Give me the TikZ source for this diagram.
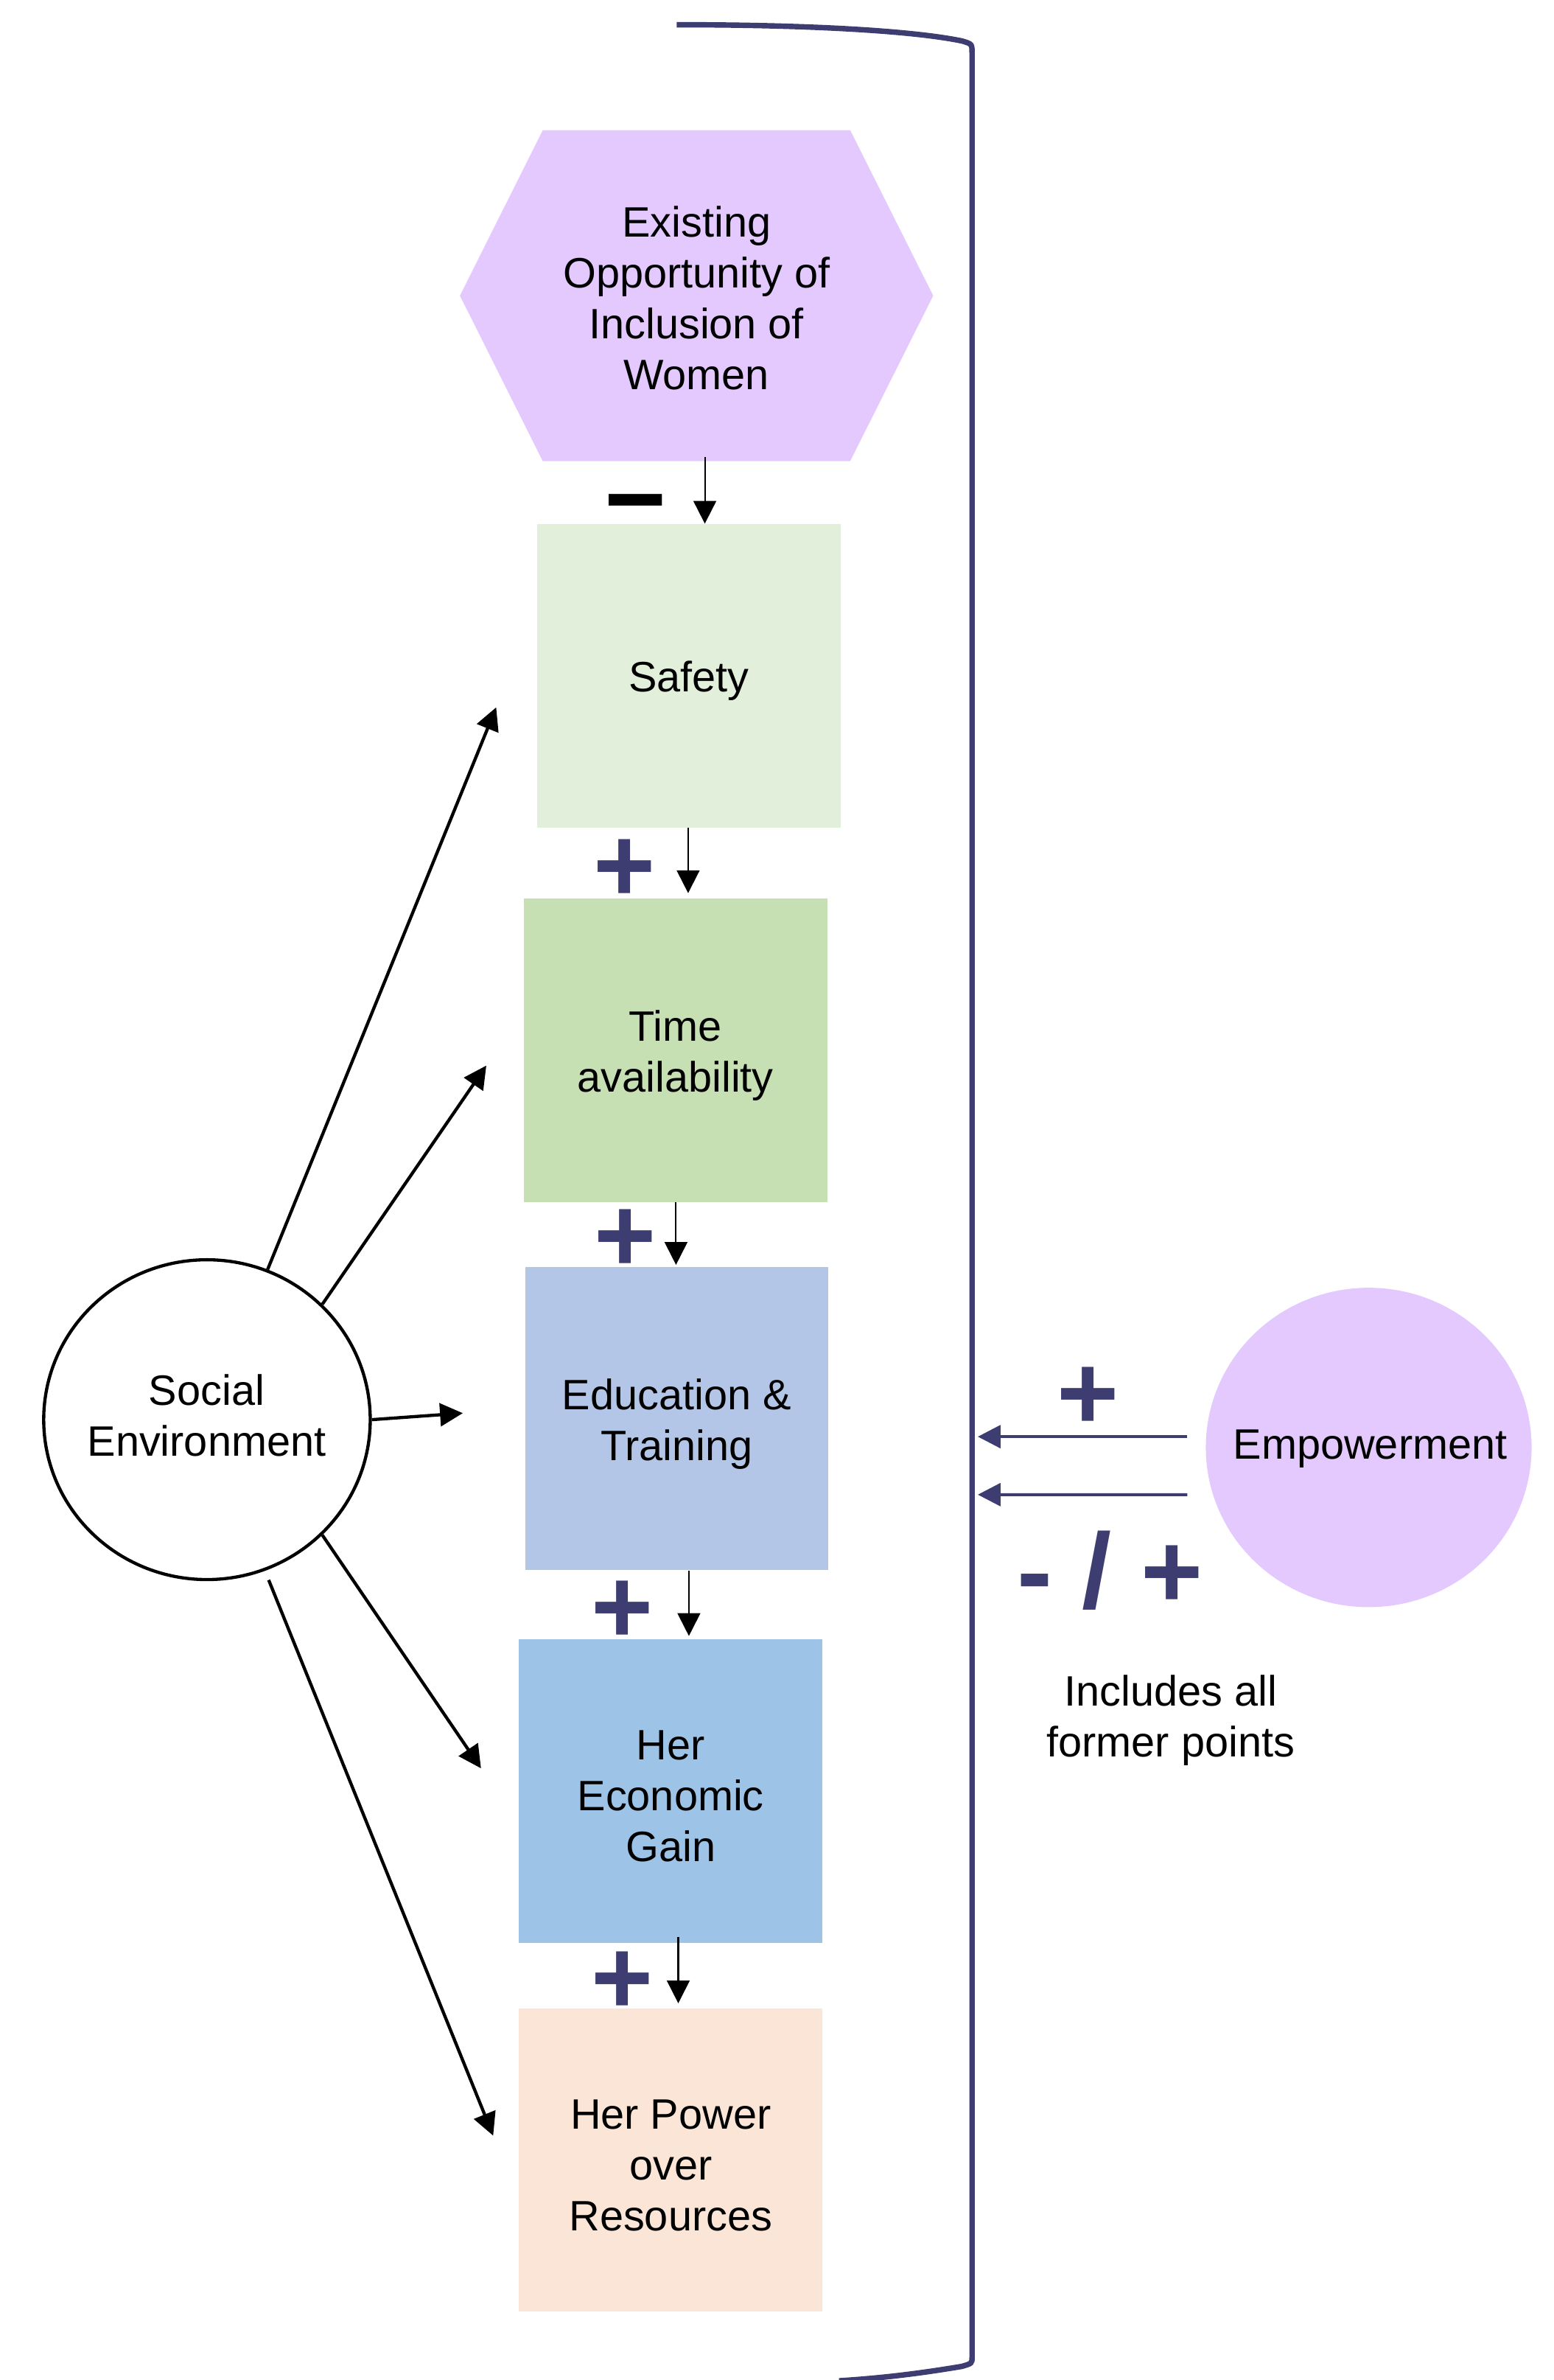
\documentclass[tikz,border=0pt]{standalone}
\usepackage{fontspec}
\setmainfont{Liberation Sans}
\usetikzlibrary{arrows.meta,shapes.geometric}
\definecolor{navy}{RGB}{62,61,114}
\definecolor{lav}{RGB}{227,201,253}
\definecolor{safetyc}{HTML}{E2EFDA}
\definecolor{timec}{HTML}{C6E0B4}
\definecolor{educ}{HTML}{B4C6E7}
\definecolor{econc}{HTML}{9DC3E6}
\definecolor{powerc}{HTML}{FBE5D6}
\begin{document}
\begin{tikzpicture}[x=1pt,y=-1pt,
  txt/.style={font=\fontsize{28}{33.5}\selectfont, align=center, text=black, inner sep=0pt},
  box/.style={rectangle, minimum width=200pt, minimum height=200pt, inner sep=0pt},
  boxtext/.style={txt, yshift=-3.5pt},
  sign/.style={font=\fontsize{70}{84}\selectfont\bfseries, text=navy, inner sep=0pt},
  thinarr/.style={draw=black, line width=1pt, -{Triangle[length=15pt,width=15pt]}},
  socarr/.style={draw=black, line width=2.1pt, -{Triangle[length=15pt,width=15pt]}},
  navyarr/.style={draw=navy, line width=2pt, -{Triangle[length=15pt,width=15pt]}}]

\useasboundingbox (0,0) rectangle (1024,1568);

% bracket
\draw[navy, line width=3.6pt] (446,16.3) .. controls (530,16.3) and (600,20) .. (634,27)
  .. controls (640.6,29) .. (640.6,35) -- (640.6,1553)
  .. controls (640.6,1557) .. (634,1559)
  .. controls (610,1563) and (585,1566.5) .. (553,1568.5);

% hexagon
\fill[lav] (303.1,194.8) -- (357.7,85.8) -- (560.3,85.8) -- (615,194.8) -- (560.3,303.8) -- (357.7,303.8) -- cycle;
\node[minimum width=312pt, minimum height=218pt, inner sep=0pt] (hex) at (459,194.8) {};
\node[txt] (hexT) at (459,196.3) {Existing\\Opportunity of\\Inclusion of\\Women};

% boxes
\node[box, fill=safetyc] (safety) at (454,445.2) {};
\node[box, fill=timec] (time) at (445.2,692) {};
\node[box, fill=educ] (edu) at (446,934.5) {};
\node[box, fill=econc] (econ) at (442,1180) {};
\node[box, fill=powerc] (power) at (442,1423) {};
\node[boxtext] (safetyT) at (safety) {Safety};
\node[boxtext] (timeT) at (time) {Time\\availability};
\node[boxtext] (eduT) at (edu) {Education \&\\Training};
\node[boxtext] (econT) at (econ) {Her\\Economic\\Gain};
\node[boxtext] (powerT) at (power) {Her Power\\over\\Resources};

% vertical arrows
\draw[thinarr, shorten <=-3pt] ([xshift=5.5pt]hex.south) -- ([xshift=10.5pt]safety.north);
\draw[thinarr, shorten >=3.4pt] ([xshift=-0.5pt]safety.south) -- ([xshift=8.3pt]time.north);
\draw[thinarr, shorten >=1pt] ([xshift=0.3pt]time.south) -- ([xshift=-0.5pt]edu.north);
\draw[thinarr, shorten >=2pt] ([xshift=8pt]edu.south) -- ([xshift=12pt]econ.north);
\draw[thinarr, shorten <=-4pt, shorten >=3pt] ([xshift=5pt]econ.south) -- ([xshift=5pt]power.north);

% signs between boxes
\node[sign, text=black, anchor=base] (minus) at (419,352.7) {−};
\node[sign, anchor=base] (p1) at (411.7,594.3) {+};
\node[sign, anchor=base] (p2) at (412,837.8) {+};
\node[sign, anchor=base] (p3) at (410,1082.8) {+};
\node[sign, anchor=base] (p4) at (410,1326.8) {+};

% social environment
\node[ellipse, draw=black, line width=2.1pt, minimum width=215.2pt, minimum height=210.7pt, inner sep=0pt]
  (soc) at (136.4,935.3) {};
\node[txt] (socT) at (136.2,932.3) {Social\\Environment};
\coordinate (s1) at (327,466);
\coordinate (s2) at (320.5,702);
\coordinate (s3) at (305,931);
\coordinate (s4) at (317,1165);
\coordinate (s5) at (325,1407);
\draw[socarr] (soc.68.7) -- (s1);
\draw[socarr] (soc.45) -- (s2);
\draw[socarr] (soc.0) -- (s3);
\draw[socarr] (soc.-45) -- (s4);
\draw[socarr, shorten <=6.5pt] (soc.-69.6) -- (s5);

% empowerment
\node[ellipse, fill=lav, minimum width=214.7pt, minimum height=210.4pt, inner sep=0pt]
  (emp) at (902,953.6) {};
\node[txt] (empT) at (903,954.6) {Empowerment};
\coordinate (b1) at (644.4,946.5);
\coordinate (b2) at (644.4,984.7);
\draw[navyarr] ([xshift=-12pt,yshift=7.1pt]emp.west) -- (b1);
\draw[navyarr] ([xshift=-12pt,yshift=-31.1pt]emp.west) -- (b2);
\node[sign, anchor=base] (pe) at (717,941.8) {+};
\node[sign, anchor=base] (mp) at (731.7,1059.2) {- / +};
\node[txt] (incl) at (771.5,1133.5) {Includes all\\former points};
\end{tikzpicture}
\end{document}
